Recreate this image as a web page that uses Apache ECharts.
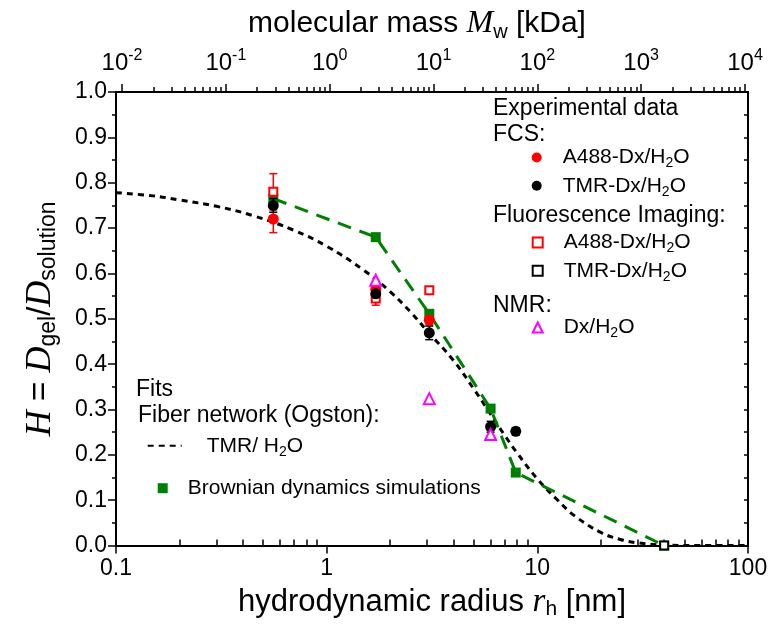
<!DOCTYPE html>
<html lang="en">
<head>
<meta charset="UTF-8">
<title>Hindrance factor vs hydrodynamic radius</title>
<script src="https://cdn.jsdelivr.net/npm/echarts@6/dist/echarts.min.js"></script>
</head>
<body style="margin:0">
<div id="container" style="width:773px;height:625px;"></div>
<script>
// values: [r_h (nm), H]
let fcsA488 = [[0.558, 0.72], [1.71, 0.565], [3.07, 0.497]];
let fcsA488Err = [[0.558, 0.69, 0.75], [1.71, 0.553, 0.577], [3.07, 0.487, 0.507]];
let fcsTmr = [[0.558, 0.75], [1.71, 0.555], [3.07, 0.469], [6.0, 0.262], [7.9, 0.252]];
let fcsTmrErr = [[0.558, 0.735, 0.765], [1.71, 0.545, 0.565], [3.07, 0.454, 0.484], [6.0, 0.25, 0.274], [7.9, 0.244, 0.26]];
let fiA488 = [[0.558, 0.78], [1.71, 0.545], [3.07, 0.563]];
let fiA488Err = [[0.558, 0.74, 0.82], [1.71, 0.53, 0.56]];
let fiTmr = [[40, 0.0]];
let nmr = [[1.71, 0.585], [3.07, 0.324], [6.0, 0.245]];
let brownian = [[0.558, 0.765], [1.71, 0.68], [3.07, 0.511], [6.0, 0.302], [7.9, 0.161], [40, 0.0]];
let ogston = [[0.1, 0.778], [0.15, 0.771], [0.2, 0.762], [0.3, 0.748], [0.45, 0.727], [0.7, 0.695],
  [1.0, 0.66], [1.5, 0.607], [2.0, 0.56], [2.5, 0.515], [3.0, 0.473], [4.0, 0.408], [5.0, 0.345],
  [6.0, 0.29], [7.0, 0.243], [8.0, 0.205], [10, 0.147], [12.5, 0.1], [15, 0.066], [20, 0.029],
  [25, 0.013], [30, 0.006], [40, 0.001], [60, 0], [100, 0]];

// tick labels
let bottomDecades = [0.1, 1, 10, 100];
let topExponents = [-2, -1, 0, 1, 2, 3, 4];
let minorSteps = [2, 3, 4, 5, 6, 7, 8, 9];

let font = 'Liberation Sans';
let serif = 'Liberation Serif';

// minor tick positions for the decade axes (in exponent units)
let bottomMinor = [];
for (let d = 0; d < bottomDecades.length - 1; d++) {
  minorSteps.forEach(k => bottomMinor.push(Math.log10(bottomDecades[d] * k)));
}
let topMinor = [];
for (let i = 0; i < topExponents.length - 1; i++) {
  minorSteps.forEach(k => topMinor.push(topExponents[i] + Math.log10(k)));
}

let legendText = {
  'FCS A488': '{t|A488-Dx/H}{s|2}{t|O}',
  'FCS TMR': '{t|TMR-Dx/H}{s|2}{t|O}',
  'FI A488': '{t|A488-Dx/H}{s|2}{t|O}',
  'FI TMR': '{t|TMR-Dx/H}{s|2}{t|O}',
  'NMR': '{t|Dx/H}{s|2}{t|O}',
  'Ogston': '{t|TMR/ H}{s|2}{t|O}',
  'Brownian': '{t|Brownian dynamics simulations}'
};
let legendRich = {
  t: { fontFamily: font, fontSize: 21, color: '#000', lineHeight: 26 },
  s: { fontFamily: font, fontSize: 14, color: '#000', lineHeight: 12, verticalAlign: 'bottom' }
};

function oneLegend(name, left, cy, opts) {
  let h = opts.itemHeight || 10;
  return Object.assign({
    data: [name],
    orient: 'vertical',
    left: left,
    top: cy - 13,
    padding: 0,
    itemWidth: 10,
    itemHeight: h,
    selectedMode: false,
    formatter: n => legendText[n],
    textStyle: { rich: legendRich, padding: [0, 0, 0, opts.gap || 0] }
  }, opts.extra || {});
}

function errorBars(color) {
  return function (params, api) {
    let x = api.value(0);
    let lo = api.coord([x, api.value(1)]);
    let hi = api.coord([x, api.value(2)]);
    let w = 4;
    let st = { stroke: color, lineWidth: 1.5 };
    return {
      type: 'group',
      children: [
        { type: 'line', shape: { x1: lo[0], y1: lo[1], x2: hi[0], y2: hi[1] }, style: st },
        { type: 'line', shape: { x1: lo[0] - w, y1: lo[1], x2: lo[0] + w, y2: lo[1] }, style: st },
        { type: 'line', shape: { x1: hi[0] - w, y1: hi[1], x2: hi[0] + w, y2: hi[1] }, style: st }
      ]
    };
  };
}

function heading(text, x, y, size) {
  return {
    type: 'text', left: x, top: y - size * 0.6,
    style: { text: text, fontFamily: font, fontSize: size, fill: '#000' }
  };
}

let axisLine = { show: true, onZero: false, lineStyle: { color: '#000', width: 2 } };
let noLine = { show: false, onZero: false };
let tickStyle = { color: '#000', width: 1.5 };

let myChart = echarts.init(document.getElementById('container'));
let option = {
  animation: false,
  grid: { left: 116, right: 25, top: 92, bottom: 73 },
  xAxis: [
    {
      type: 'log', logBase: 10, min: 0.1, max: 100, position: 'bottom',
      axisLine: axisLine,
      axisTick: { inside: false, length: 8, lineStyle: tickStyle },
      axisLabel: {
        margin: 12, color: '#000', fontFamily: font, fontSize: 23,
        formatter: v => (v < 1 ? v.toFixed(1) : String(Math.round(v)))
      },
      splitLine: { show: false },
      name: '{t|hydrodynamic radius }{i|r}{s|h}{t| [nm]}',
      nameLocation: 'middle', nameGap: 35,
      nameTextStyle: {
        rich: {
          t: { fontFamily: font, fontSize: 31, color: '#000', lineHeight: 36 },
          i: { fontFamily: serif, fontStyle: 'italic', fontSize: 33, color: '#000', lineHeight: 36 },
          s: { fontFamily: font, fontSize: 21, color: '#000', lineHeight: 16, verticalAlign: 'bottom' }
        }
      }
    },
    {
      type: 'value', min: -1, max: 2, position: 'bottom',
      axisLine: noLine,
      axisTick: { show: true, inside: true, length: 6, lineStyle: tickStyle, customValues: bottomMinor },
      axisLabel: { show: false },
      splitLine: { show: false }
    },
    {
      type: 'value', min: -2.058, max: 4.029, position: 'top',
      axisLine: axisLine,
      axisTick: { show: true, inside: false, length: 8, lineStyle: tickStyle, customValues: topExponents },
      axisLabel: {
        customValues: topExponents, margin: 14,
        formatter: v => '{b|10}{e|' + Math.round(v) + '}',
        rich: {
          b: { fontFamily: font, fontSize: 24, color: '#000', lineHeight: 30 },
          e: { fontFamily: font, fontSize: 16, color: '#000', lineHeight: 14, verticalAlign: 'top' }
        }
      },
      splitLine: { show: false },
      name: '{t|molecular mass }{i|M}{s|w}{t| [kDa]}',
      nameLocation: 'middle', nameGap: 50,
      nameTextStyle: {
        padding: [0, 30, 0, 0],
        rich: {
          t: { fontFamily: font, fontSize: 30, color: '#000', lineHeight: 36 },
          i: { fontFamily: serif, fontStyle: 'italic', fontSize: 32, color: '#000', lineHeight: 36 },
          s: { fontFamily: font, fontSize: 20, color: '#000', lineHeight: 16, verticalAlign: 'bottom' }
        }
      }
    },
    {
      type: 'value', min: -2.058, max: 4.029, position: 'top',
      axisLine: noLine,
      axisTick: { show: true, inside: false, length: 5, lineStyle: tickStyle, customValues: topMinor },
      axisLabel: { show: false },
      splitLine: { show: false }
    }
  ],
  yAxis: [
    {
      type: 'value', min: 0, max: 1, interval: 0.1, position: 'left',
      axisLine: axisLine,
      axisTick: { inside: false, length: 8, lineStyle: tickStyle },
      minorTick: { show: true, splitNumber: 2, length: 4, lineStyle: { color: '#000', width: 1.5 } },
      axisLabel: { margin: 9, color: '#000', fontFamily: font, fontSize: 23, formatter: v => v.toFixed(1) },
      splitLine: { show: false },
      name: '{i|H}{t| = }{i|D}{s|gel}{t|/}{i|D}{s|solution}',
      nameLocation: 'middle', nameGap: 56,
      nameTextStyle: {
        rich: {
          t: { fontFamily: font, fontSize: 33, color: '#000', lineHeight: 38 },
          i: { fontFamily: serif, fontStyle: 'italic', fontSize: 36, color: '#000', lineHeight: 38 },
          s: { fontFamily: font, fontSize: 23, color: '#000', lineHeight: 16, verticalAlign: 'bottom' }
        }
      }
    },
    {
      type: 'value', min: 0, max: 1, interval: 0.05, position: 'right',
      axisLine: axisLine,
      axisTick: { inside: true, length: 4, lineStyle: tickStyle },
      axisLabel: { show: false },
      splitLine: { show: false }
    }
  ],
  legend: [
    oneLegend('FCS A488', 531.7, 160, { gap: 16 }),
    oneLegend('FCS TMR', 531.7, 188.3, { gap: 16 }),
    oneLegend('FI A488', 531.7, 245, { gap: 16 }),
    oneLegend('FI TMR', 531.7, 273.3, { gap: 16 }),
    oneLegend('NMR', 531.7, 330, { gap: 16 }),
    oneLegend('Ogston', 146.7, 448.3, { gap: 20, extra: { itemWidth: 34, itemHeight: 12, itemStyle: { opacity: 0 } } }),
    oneLegend('Brownian', 157.7, 490.7, { gap: 15, extra: { data: [{ name: 'Brownian', icon: 'rect' }] } })
  ],
  graphic: [
    heading('Experimental data', 493, 111, 23),
    heading('FCS:', 493, 137, 23),
    heading('Fluorescence Imaging:', 493, 218, 23),
    heading('NMR:', 493, 308, 23),
    heading('Fits', 136, 392, 23),
    heading('Fiber network (Ogston):', 138, 418, 23)
  ],
  series: [
    {
      name: 'Ogston', type: 'line', data: ogston, symbol: 'none',
      smooth: 0.4, z: 2,
      itemStyle: { color: '#000' },
      lineStyle: { color: '#000', width: 3, type: [6, 5] }
    },
    {
      name: 'Brownian', type: 'line', data: brownian, symbol: 'rect', symbolSize: 10, z: 3,
      itemStyle: { color: '#008000', opacity: 1 },
      lineStyle: { color: '#008000', width: 3, type: [14, 9] }
    },
    { type: 'custom', renderItem: errorBars('#ff0000'), data: fiA488Err, encode: { x: 0, y: [1, 2] }, z: 4 },
    { type: 'custom', renderItem: errorBars('#ff0000'), data: fcsA488Err, encode: { x: 0, y: [1, 2] }, z: 4 },
    { type: 'custom', renderItem: errorBars('#000000'), data: fcsTmrErr, encode: { x: 0, y: [1, 2] }, z: 4 },
    {
      name: 'FI A488', type: 'scatter', data: fiA488, symbol: 'rect', symbolSize: 8, z: 5,
      itemStyle: { color: '#fff', borderColor: '#ff0000', borderWidth: 2, opacity: 1 }
    },
    {
      name: 'FI TMR', type: 'scatter', data: fiTmr, symbol: 'rect', symbolSize: 8, z: 5,
      itemStyle: { color: '#fff', borderColor: '#000', borderWidth: 2, opacity: 1 }
    },
    {
      name: 'FCS A488', type: 'scatter', data: fcsA488, symbol: 'circle', symbolSize: 11, z: 6,
      itemStyle: { color: '#ff0000', opacity: 1 }
    },
    {
      name: 'FCS TMR', type: 'scatter', data: fcsTmr, symbol: 'circle', symbolSize: 11, z: 6,
      itemStyle: { color: '#000', opacity: 1 }
    },
    {
      name: 'NMR', type: 'scatter', data: nmr, symbol: 'triangle', symbolSize: 11, z: 7,
      itemStyle: { color: '#fff', borderColor: '#ff00ff', borderWidth: 2, opacity: 1 }
    }
  ]
};
myChart.setOption(option);
</script>
</body>
</html>
